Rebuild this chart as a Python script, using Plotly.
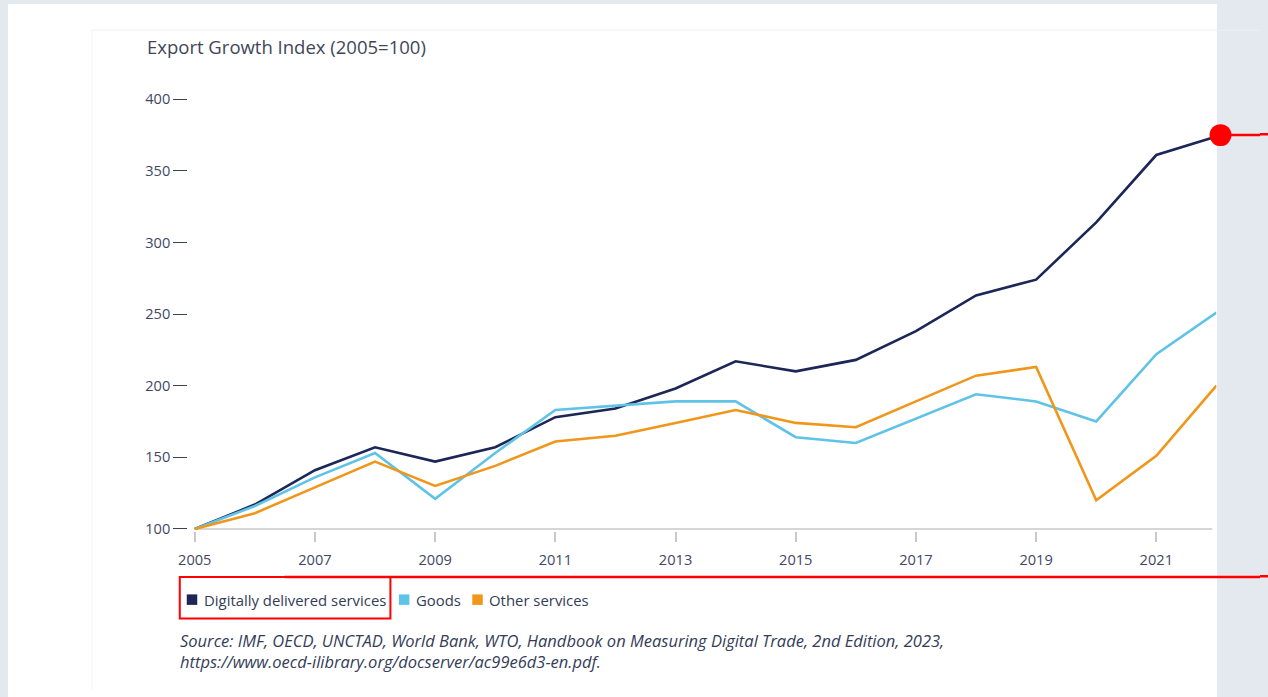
import plotly.graph_objects as go

# ---------------- data ----------------
years = list(range(2005, 2023))
series_names = ["Digitally delivered services", "Goods", "Other services"]
digital = [100, 117, 141, 157, 147, 157, 178, 184, 198, 217, 210, 218, 238, 263, 274, 314, 361, 374]
goods = [100, 116, 136, 153, 121, 153, 183, 186, 189, 189, 164, 160, 177, 194, 189, 175, 222, 251]
other = [100, 111, 129, 147, 130, 144, 161, 165, 174, 183, 174, 171, 189, 207, 213, 120, 151, 200]
y_ticks = [100, 150, 200, 250, 300, 350, 400]
x_ticks = [2005, 2007, 2009, 2011, 2013, 2015, 2017, 2019, 2021]
title_text = "Export Growth Index (2005=100)"
source_lines = [
    "Source: IMF, OECD, UNCTAD, World Bank, WTO, Handbook on Measuring Digital Trade, 2nd Edition, 2023,",
    "https://www.oecd-ilibrary.org/docserver/ac99e6d3-en.pdf.",
]

# Figure sized to sit inside the default 8px page margin; target positions are given in
# window pixels and converted (with the measured offset/scale of the rendered figure).
OFF = 8
FW, FH = 1252, 681
SX, SY = 0.9937, 0.977
colors = ["#1c2657", "#5fc3e8", "#f0961a"]
text_col = "#343c58"
FONT = "Open Sans"
GRAY_BG = "#e4e8ef"


def px(x):
    return ((x - OFF) / SX - OFF) / FW


def py(y):
    return 1 - ((y - OFF) / SY - OFF) / FH


fig = go.Figure()
for name, vals, col in zip(series_names, [digital, goods, other], colors):
    fig.add_trace(go.Scatter(x=years, y=vals, name=name, mode="lines",
                             line=dict(color=col, width=2.6), showlegend=False))

shapes = []
# white card on grey page
shapes.append(dict(type="rect", xref="paper", yref="paper", x0=px(0), x1=px(1217), y0=py(720), y1=py(0),
                   fillcolor="white", line=dict(width=0), layer="below"))
# faint inner guide lines
shapes.append(dict(type="line", xref="paper", yref="paper", x0=px(90), x1=px(1280), y0=py(29), y1=py(29),
                   line=dict(color="#eef0f4", width=1), layer="below"))
shapes.append(dict(type="line", xref="paper", yref="paper", x0=px(90), x1=px(90), y0=py(29), y1=py(720),
                   line=dict(color="#f2f3f6", width=1), layer="below"))
# baseline
shapes.append(dict(type="line", xref="x", yref="y", x0=years[0], x1=2021.93, y0=y_ticks[0], y1=y_ticks[0],
                   line=dict(color="#d6d6d6", width=2), layer="below"))

# manual legend (squares + labels)
legend_sq_x = [185, 397.5, 471]
legend_tx_x = [200, 413, 486]
annotations = []
for sx, tx, col, name in zip(legend_sq_x, legend_tx_x, colors, series_names):
    shapes.append(dict(type="rect", xref="paper", yref="paper", x0=px(sx), x1=px(sx + 10.5),
                       y0=py(604), y1=py(593.5), fillcolor=col, line=dict(width=0)))
    annotations.append(dict(xref="paper", yref="paper", x=px(tx), y=py(599), xanchor="left", yanchor="middle",
                            text=name, showarrow=False, font=dict(family=FONT, size=14.9, color=text_col)))

# title
annotations.append(dict(xref="paper", yref="paper", x=px(143), y=py(45), xanchor="left", yanchor="middle",
                        text=title_text, showarrow=False, font=dict(family=FONT, size=18.5, color="#3f4658")))
# source (one two-line block)
annotations.append(dict(xref="paper", yref="paper", x=px(176), y=py(650.5), xanchor="left", yanchor="middle",
                        align="left", text="<i>" + "<br>".join(source_lines) + "</i>", showarrow=False,
                        font=dict(family=FONT, size=16.5, color=text_col)))

# red annotation marks
shapes.append(dict(type="line", xref="paper", yref="paper", x0=px(1228), x1=px(1280), y0=py(134), y1=py(134),
                   line=dict(color="#ff0000", width=2.5)))
shapes.append(dict(type="circle", xref="paper", yref="paper", x0=px(1209.5), x1=px(1231.5), y0=py(145),
                   y1=py(123), fillcolor="#ff0000", line=dict(color="#ff0000", width=0)))
shapes.append(dict(type="rect", xref="paper", yref="paper", x0=px(178), x1=px(389), y0=py(617.5), y1=py(576),
                   line=dict(color="#ff0000", width=2)))
shapes.append(dict(type="line", xref="paper", yref="paper", x0=px(283), x1=px(1280), y0=py(576), y1=py(576),
                   line=dict(color="#ff0000", width=2.5)))

# axis geometry (window pixels): 2005 -> 193px, 60.2px per year; 100 -> 528px, 400 -> 98px
ppy = 60.2
ppv = 430 / 300
x_left, x_right = 2005 - 6.5 / ppy, 2022.0
y_bot, y_top = 98.5, 401.0
xl_px = 193 + (x_left - 2005) * ppy
xr_px = 193 + (x_right - 2005) * ppy
yb_px = 528 + (100 - y_bot) * ppv
yt_px = 98 - (y_top - 400) * ppv

fig.update_layout(
    width=FW, height=FH,
    autosize=False,
    margin=dict(l=0, r=0, t=0, b=0, pad=0),
    paper_bgcolor=GRAY_BG,
    plot_bgcolor="rgba(0,0,0,0)",
    font=dict(family=FONT, color=text_col),
    shapes=shapes,
    annotations=annotations,
    showlegend=False,
    xaxis=dict(domain=[px(xl_px), px(xr_px)], range=[x_left, x_right], showgrid=False, zeroline=False,
               showline=False, tickmode="array", tickvals=x_ticks, ticktext=[str(v) for v in x_ticks],
               ticks="outside", ticklen=10.2, tickcolor="#c9c9c9", tickwidth=1.5, ticklabelstandoff=5,
               tickfont=dict(family=FONT, size=14.6, color="#3f4764"), fixedrange=True),
    yaxis=dict(domain=[py(yb_px), py(yt_px)], range=[y_bot, y_top], showgrid=False, zeroline=False,
               showline=False, tickmode="array", tickvals=y_ticks, ticktext=[str(v) for v in y_ticks],
               ticks="outside", ticklen=14.1, tickcolor="#3a4257", tickwidth=1.3, ticklabelstandoff=0,
               tickfont=dict(family=FONT, size=14.6, color="#3f4764"), fixedrange=True),
)

# colour the page margin like the reference's surroundings (style only, no layout change)
page_bg = (
    "linear-gradient(#ff0000,#ff0000) 1260px 132.75px/8px 2.5px no-repeat,"
    "linear-gradient(#ff0000,#ff0000) 1260px 574.75px/8px 2.5px no-repeat,"
    "linear-gradient(" + GRAY_BG + "," + GRAY_BG + ") 0 0/100% 4px no-repeat,"
    "linear-gradient(to right," + GRAY_BG + " 8px,#ffffff 8px,#ffffff 1217px," + GRAY_BG + " 1217px)"
)
fig.write_html("out.html", config={"displayModeBar": False},
               post_script="document.body.style.background='" + page_bg + "';")
